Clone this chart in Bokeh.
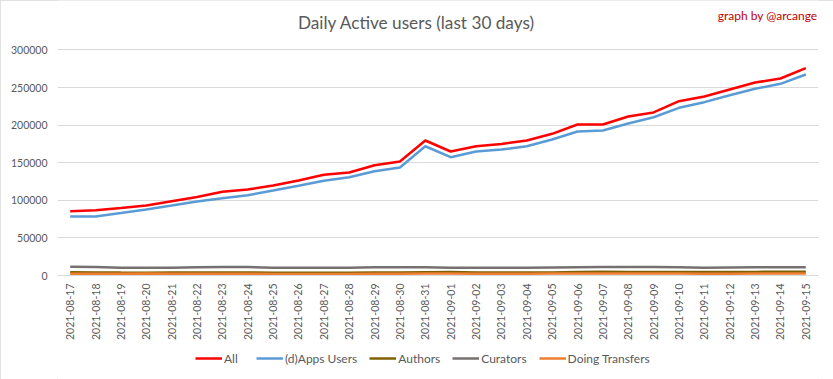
from bokeh.plotting import figure
from bokeh.models import (FactorRange, Range1d, Legend, LegendItem, Label,
                          NumeralTickFormatter, FixedTicker)
from bokeh.embed import file_html
from bokeh.resources import INLINE
import math

dates = ["2021-08-17", "2021-08-18", "2021-08-19", "2021-08-20", "2021-08-21",
         "2021-08-22", "2021-08-23", "2021-08-24", "2021-08-25", "2021-08-26",
         "2021-08-27", "2021-08-28", "2021-08-29", "2021-08-30", "2021-08-31",
         "2021-09-01", "2021-09-02", "2021-09-03", "2021-09-04", "2021-09-05",
         "2021-09-06", "2021-09-07", "2021-09-08", "2021-09-09", "2021-09-10",
         "2021-09-11", "2021-09-12", "2021-09-13", "2021-09-14", "2021-09-15"]

all_users = [85500, 86800, 89800, 93000, 98800, 104400, 111300, 114400, 119700, 126300,
             133900, 137000, 146700, 151600, 179500, 164900, 171900, 174900, 179500, 188400,
             200800, 200800, 211400, 216800, 231800, 238000, 247300, 256600, 262000, 275700]
apps_users = [78500, 78500, 83100, 87800, 93000, 98400, 102800, 106800, 113000, 119300,
              125900, 130700, 138700, 143600, 171900, 157300, 164900, 167500, 171900, 180900,
              191500, 192800, 202100, 210500, 223000, 230500, 239800, 248300, 254900, 267300]
authors = [4200, 4100, 3900, 3800, 3900, 4000, 4100, 4000, 3800, 3700,
           3700, 3700, 3900, 3900, 4200, 4500, 4000, 3900, 3900, 4100,
           4800, 4900, 4800, 4800, 4700, 4600, 4500, 4800, 4900, 4900]
curators = [11500, 11300, 10300, 10300, 10300, 11100, 11300, 11300, 10300, 10300,
            10300, 10300, 10900, 11100, 11100, 10300, 10300, 10300, 10300, 10800,
            11100, 11200, 11200, 11200, 11000, 10200, 10700, 11100, 11100, 11100]
transfers = [2300, 2200, 2200, 2500, 2400, 2400, 2300, 2200, 2100, 2100,
             2100, 2100, 2200, 2200, 2500, 2600, 2400, 2300, 2400, 2500,
             2600, 2600, 2600, 2600, 2500, 2400, 2400, 2500, 2500, 2500]

y_ticks = [0, 50000, 100000, 150000, 200000, 250000, 300000]

FONT = "Lato"
GRAY = "#595959"

# The frame fills the canvas height: headroom above 300000 holds the titles,
# the room below 0 holds the date labels (axis fixed at 0) and the legend.
p = figure(x_range=FactorRange(*dates, range_padding=0), y_range=Range1d(-138300, 365700),
           frame_width=761, frame_height=379,
           min_border_left=57, min_border_right=15, min_border_top=0, min_border_bottom=0,
           output_backend="svg", toolbar_location=None, title=None,
           styles={"outline": "1px solid #d9d9d9", "outline-offset": "-1px"})
p.outline_line_color = None
p.background_fill_color = "white"
p.border_fill_color = "white"

p.xgrid.grid_line_color = None
p.ygrid.ticker = FixedTicker(ticks=y_ticks)
p.ygrid.grid_line_color = "#d9d9d9"
p.ygrid.grid_line_width = 1

p.yaxis.ticker = FixedTicker(ticks=y_ticks)
p.yaxis.formatter = NumeralTickFormatter(format="0")
p.yaxis.axis_line_color = None
p.yaxis.major_tick_line_color = None
p.yaxis.minor_tick_line_color = None
p.yaxis.major_tick_out = 0
p.yaxis.major_label_standoff = 10
p.yaxis.major_label_text_font = FONT
p.yaxis.major_label_text_font_size = "10.5px"
p.yaxis.major_label_text_color = GRAY

p.xaxis.fixed_location = 0
p.xaxis.axis_line_color = "#d9d9d9"
p.xaxis.major_tick_line_color = None
p.xaxis.minor_tick_line_color = None
p.xaxis.major_tick_out = 0
p.xaxis.major_label_orientation = math.pi / 2
p.xaxis.major_label_standoff = 8
p.xaxis.major_label_text_font = FONT
p.xaxis.major_label_text_font_size = "10.5px"
p.xaxis.major_label_text_color = GRAY

lw = 2.5
r_apps = p.line(dates, apps_users, line_color="#5B9BD5", line_width=lw)
r_all = p.line(dates, all_users, line_color="#FF0000", line_width=lw)
r_cur = p.line(dates, curators, line_color="#767171", line_width=lw)
r_auth = p.line(dates, authors, line_color="#7F6000", line_width=lw)
r_tr = p.line(dates, transfers, line_color="#ED7D31", line_width=lw)

legend = Legend(items=[
    LegendItem(label="All", renderers=[r_all]),
    LegendItem(label="(d)Apps Users", renderers=[r_apps]),
    LegendItem(label="Authors", renderers=[r_auth]),
    LegendItem(label="Curators", renderers=[r_cur]),
    LegendItem(label="Doing Transfers", renderers=[r_tr]),
], orientation="horizontal", location=(138, 12), padding=4, margin=0,
   spacing=12, glyph_width=27, glyph_height=18, label_height=18,
   label_standoff=2, border_line_color=None, background_fill_alpha=0,
   label_text_font=FONT, label_text_font_size="12px", label_text_color=GRAY)
p.add_layout(legend, "center")

p.add_layout(Label(x=359, y=336400, x_units="screen", y_units="data",
                   text="Daily Active users (last 30 days)", text_align="center",
                   text_baseline="middle", text_font=FONT, text_font_size="17.2px",
                   text_color=GRAY))
p.add_layout(Label(x=760, y=345700, x_units="screen", y_units="data",
                   text="graph by @arcange", text_align="right",
                   text_baseline="middle", text_font=FONT, text_font_size="12px",
                   text_color="#C00000"))

open("out.html", "w").write(file_html(p, INLINE))
